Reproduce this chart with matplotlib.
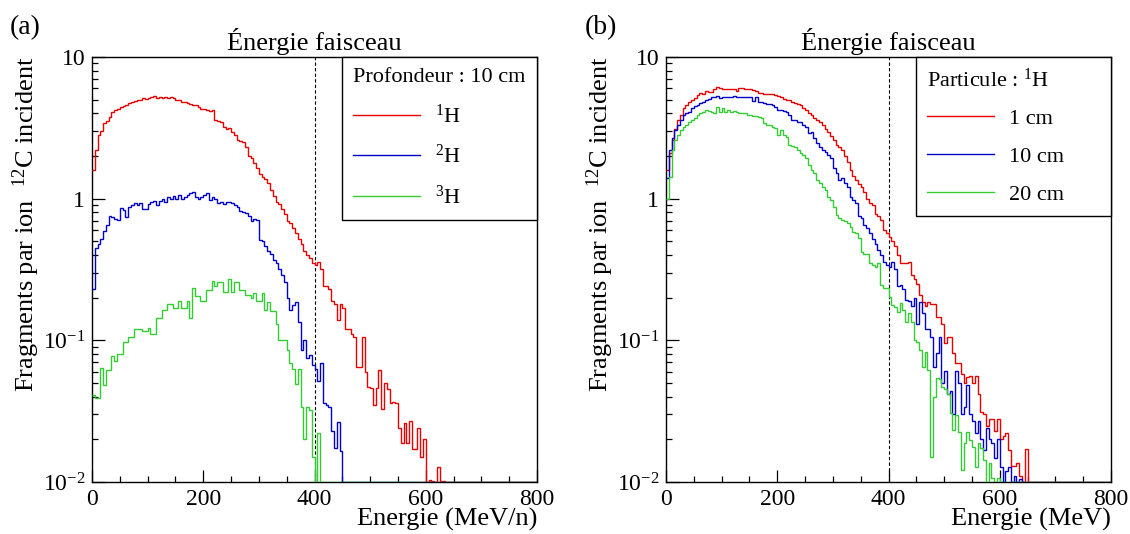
import matplotlib as mpl
import matplotlib.pyplot as plt
import numpy as np

# police type Times (ROOT)
mpl.rcParams['font.family'] = ['Liberation Serif', 'DejaVu Serif']
mpl.rcParams['mathtext.fontset'] = 'custom'
mpl.rcParams['mathtext.rm'] = 'Liberation Serif'
mpl.rcParams['mathtext.it'] = 'Liberation Serif:italic'
mpl.rcParams['axes.linewidth'] = 1.0

# histogrammes : pas de 5 MeV depuis 0
bin_width = 5
n_bins = 160

# (a) profondeur 10 cm
h1_10cm = [1.6, 2.2, 2.8, 3.0, 3.4, 3.55, 3.8, 4.1, 4.2, 4.3,
           4.45, 4.5, 4.6, 4.75, 4.8, 4.9, 4.95, 5.0, 5.1, 5.05,
           5.15, 5.2, 5.3, 5.15, 5.2, 5.15, 5.2, 5.15, 5.2, 5.1,
           4.95, 5.0, 4.85, 4.8, 4.7, 4.65, 4.6, 4.55, 4.45, 4.3,
           4.3, 4.2, 4.15, 4.2, 3.6, 3.55, 3.5, 3.2, 3.1, 3.15,
           2.95, 2.8, 2.6, 2.55, 2.5, 2.3, 2.0, 1.95, 1.8, 1.65,
           1.5, 1.42, 1.37, 1.3, 1.15, 1.05, 0.95, 0.92, 0.85, 0.78,
           0.7, 0.67, 0.62, 0.57, 0.52, 0.48, 0.43, 0.4, 0.38, 0.35,
           0.34, 0.36, 0.32, 0.24, 0.24, 0.23, 0.19, 0.18, 0.14, 0.18,
           0.17, 0.12, 0.12, 0.11, 0.105, 0.065, 0.065, 0.105, 0.06, 0.047,
           0.046, 0.035, 0.046, 0.062, 0.033, 0.05, 0.045, 0.036, 0.037, 0.036,
           0.024, 0.019, 0.026, 0.019, 0.027, 0.017, 0.017, 0.024, 0.015, 0.02,
           0, 0.0103, 0.0102, 0, 0.0128, 0.0102, 0.0101]
h2_10cm = [0.23, 0.45, 0.48, 0.52, 0.59, 0.65, 0.75, 0.74, 0.72, 0.71,
           0.86, 0.83, 0.74, 0.88, 0.9, 0.93, 0.9, 0.93, 0.85, 0.84,
           0.92, 0.95, 0.96, 0.9, 0.97, 0.99, 0.95, 1.03, 1.0, 1.05,
           0.99, 1.06, 1.0, 1.03, 1.06, 1.09, 1.12, 1.03, 1.0, 1.03,
           1.06, 1.09, 0.98, 1.03, 1.0, 0.93, 0.95, 0.92, 0.94, 0.95,
           0.93, 0.9, 0.88, 0.82, 0.8, 0.79, 0.75, 0.69, 0.72, 0.71,
           0.51, 0.5, 0.46, 0.43, 0.41, 0.37, 0.35, 0.32, 0.29, 0.26,
           0.2, 0.165, 0.177, 0.187, 0.135, 0.085, 0.1, 0.075, 0.079, 0.067,
           0.063, 0.052, 0.069, 0.036, 0.035, 0.034, 0.023, 0.0173, 0.0267, 0.0165]
h3_10cm = [0.041, 0.039, 0.039, 0.064, 0.048, 0.062, 0.062, 0.078, 0.072, 0.08,
           0.08, 0.097, 0.097, 0.105, 0.105, 0.12, 0.12, 0.12, 0.117, 0.117,
           0.123, 0.111, 0.111, 0.143, 0.143, 0.164, 0.164, 0.18, 0.18, 0.17,
           0.17, 0.19, 0.168, 0.168, 0.19, 0.143, 0.235, 0.205, 0.205, 0.19,
           0.19, 0.226, 0.226, 0.262, 0.24, 0.256, 0.256, 0.22, 0.22, 0.27,
           0.22, 0.26, 0.26, 0.226, 0.226, 0.21, 0.21, 0.2, 0.215, 0.19,
           0.19, 0.215, 0.165, 0.185, 0.16, 0.16, 0.13, 0.1, 0.1, 0.1,
           0.085, 0.069, 0.063, 0.049, 0.063, 0.034, 0.02, 0.034, 0.032, 0.015,
           0, 0.022]

# (b) particule 1H
h1_1cm = [1.6, 2.1, 2.6, 3.1, 3.6, 3.9, 4.35, 4.6, 4.8, 5.0,
          5.1, 5.4, 5.6, 5.5, 5.8, 5.7, 5.7, 5.9, 6.1, 6.0,
          5.9, 5.9, 5.9, 5.9, 5.95, 5.8, 6.0, 6.0, 5.95, 5.9,
          5.9, 5.85, 5.75, 5.6, 5.6, 5.5, 5.5, 5.5, 5.45, 5.4,
          5.3, 5.25, 5.05, 5.0, 5.0, 4.8, 4.75, 4.65, 4.6, 4.35,
          4.2, 4.0, 3.9, 3.7, 3.6, 3.5, 3.3, 3.1, 2.95, 2.75,
          2.6, 2.4, 2.3, 2.2, 2.0, 1.82, 1.6, 1.45, 1.35, 1.27,
          1.2, 1.12, 1.0, 0.93, 0.9, 0.78, 0.75, 0.71, 0.6, 0.57,
          0.54, 0.5, 0.46, 0.4, 0.35, 0.35, 0.35, 0.36, 0.29, 0.27,
          0.25, 0.21, 0.185, 0.175, 0.185, 0.18, 0.18, 0.145, 0.145, 0.13,
          0.095, 0.106, 0.106, 0.082, 0.069, 0.069, 0.058, 0.05, 0.055, 0.056,
          0.05, 0.056, 0.042, 0.031, 0.03, 0.025, 0.028, 0.028, 0.023, 0.028,
          0.02, 0.021, 0.022, 0.0168, 0.013, 0.013, 0.0137, 0.011, 0, 0.017]
h1_10cm_b = [1.4, 2.2, 2.67, 3.05, 3.31, 3.59, 3.9, 4.0, 4.11, 4.34,
             4.5, 4.58, 4.71, 4.84, 4.98, 5.03, 5.25, 5.19, 5.31, 5.1,
             5.19, 5.25, 5.2, 5.19, 5.31, 5.19, 5.25, 5.19, 5.2, 5.25,
             5.19, 4.92, 5.25, 4.84, 4.84, 4.71, 4.66, 4.66, 4.58, 4.46,
             4.22, 4.22, 4.15, 4.11, 3.9, 3.59, 3.59, 3.5, 3.5, 3.31,
             3.22, 2.89, 2.97, 2.67, 2.46, 2.33, 2.2, 2.15, 2.03, 1.93,
             1.64, 1.51, 1.35, 1.39, 1.3, 1.21, 1.03, 0.98, 0.93, 0.76,
             0.73, 0.65, 0.62, 0.57, 0.52, 0.48, 0.435, 0.4, 0.36, 0.34,
             0.33, 0.36, 0.32, 0.24, 0.245, 0.23, 0.193, 0.19, 0.175, 0.2,
             0.13, 0.185, 0.155, 0.12, 0.12, 0.106, 0.065, 0.082, 0.106, 0.05,
             0.061, 0.042, 0.044, 0.03, 0.061, 0.05, 0.03, 0.034, 0.048, 0.03,
             0.027, 0.022, 0.027, 0.02, 0.0168, 0.024, 0.02, 0.019, 0.0147, 0.02,
             0.0128, 0, 0.012, 0.0128, 0, 0.011, 0, 0.0105]
h1_20cm = [1.0, 1.43, 2.21, 2.6, 2.82, 3.05, 3.2, 3.31, 3.5, 3.6,
           3.69, 3.9, 4.01, 4.11, 4.22, 4.18, 4.11, 4.05, 4.46, 4.11,
           4.35, 4.11, 4.22, 4.11, 4.18, 4.11, 4.05, 4.01, 4.01, 3.9,
           3.9, 3.84, 3.84, 3.75, 3.69, 3.4, 3.31, 3.31, 3.19, 3.15,
           2.82, 3.05, 2.82, 2.74, 2.39, 2.35, 2.33, 2.2, 2.09, 2.03,
           1.93, 1.73, 1.6, 1.51, 1.35, 1.28, 1.2, 1.15, 1.03, 0.98,
           0.88, 0.77, 0.73, 0.71, 0.69, 0.67, 0.635, 0.585, 0.57, 0.525,
           0.42, 0.41, 0.41, 0.35, 0.34, 0.33, 0.35, 0.246, 0.233, 0.233,
           0.203, 0.177, 0.173, 0.159, 0.182, 0.164, 0.135, 0.155, 0.135, 0.1,
           0.098, 0.0856, 0.065, 0.083, 0.062, 0.015, 0.04, 0.054, 0.053, 0.047,
           0.045, 0.042, 0.0306, 0.0233, 0.0297, 0.0227, 0.0122, 0.0188, 0.0227, 0.0197,
           0.0178, 0.0128, 0.0188, 0.0173, 0.0144, 0, 0.0137, 0.0106, 0, 0.0106]

edges = np.arange(n_bins + 1) * bin_width
ymin, ymax = 1e-2, 10
beam_energy = 400

panels = [
    ("(a)", "Energie (MeV/n)", "Profondeur : 10 cm",
     [(h1_10cm, "#e60000", "$^{1}$H"),
      (h2_10cm, "#0000cc", "$^{2}$H"),
      (h3_10cm, "#33cc33", "$^{3}$H")]),
    ("(b)", "Energie (MeV)", "Particule : $^{1}$H",
     [(h1_1cm, "#e60000", "1 cm"),
      (h1_10cm_b, "#0000cc", "10 cm"),
      (h1_20cm, "#33cc33", "20 cm")]),
]

fig = plt.figure(figsize=(11.3, 5.34), dpi=100)
ax_left = [92 / 1130, 666 / 1130]

for i, (tag, xlabel, header, series) in enumerate(panels):
    ax = fig.add_axes([ax_left[i], 52 / 534, 445 / 1130, 425 / 534])
    for vals, col, lab in series:
        h = np.zeros(n_bins)
        h[:len(vals)] = vals
        # bins vides dessines sur le bord inferieur (comme ROOT)
        h = np.where(h > 0, h, ymin)
        ax.stairs(h, edges, baseline=None, color=col, lw=1.0, label=lab, zorder=3)

    ax.axvline(beam_energy, color='k', ls=(0, (3, 2)), lw=0.8, zorder=2)

    ax.set_yscale('log')
    ax.set_xlim(0, 800)
    ax.set_ylim(ymin, ymax)
    ax.set_xticks([0, 200, 400, 600, 800])
    ax.set_xticks(np.arange(0, 801, 50), minor=True)
    ax.set_yticks([1e-2, 1e-1, 1, 10])
    ax.set_yticklabels(["$10^{-2}$", "$10^{-1}$", "1", "10"])
    ax.yaxis.set_minor_locator(mpl.ticker.LogLocator(base=10, subs=np.arange(2, 10)))
    ax.yaxis.set_minor_formatter(mpl.ticker.NullFormatter())
    ax.tick_params(which='both', direction='in', top=False, right=False, labelsize=17)
    ax.tick_params(which='major', length=9, width=0.9, pad=5)
    ax.tick_params(which='minor', length=4.5, width=0.9)

    ax.set_title("Énergie faisceau", fontsize=19, pad=5)
    ax.set_xlabel(xlabel, fontsize=19, loc='right')
    ax.xaxis.set_label_coords(1.0, -0.062)
    ax.set_ylabel("Fragments par ion  $^{12}$C incident", fontsize=19, loc='top')
    ax.yaxis.set_label_coords(-0.112, 1.0)

    leg = ax.legend(title=header, loc='upper right', bbox_to_anchor=(0.562, 0, 0.438, 1),
                    mode='expand', borderaxespad=0, fancybox=False, edgecolor='k',
                    framealpha=1, alignment='left', fontsize=16, title_fontsize=16,
                    handlelength=3.0, handletextpad=0.7, labelspacing=0.78, borderpad=0.5)
    leg.get_frame().set_linewidth(1.0)
    leg.set_zorder(5)

    fig.text((10 if i == 0 else 585) / 1130, 1 - 28 / 534, tag, fontsize=20, va='center')

fig.savefig('out.png', dpi=100)
